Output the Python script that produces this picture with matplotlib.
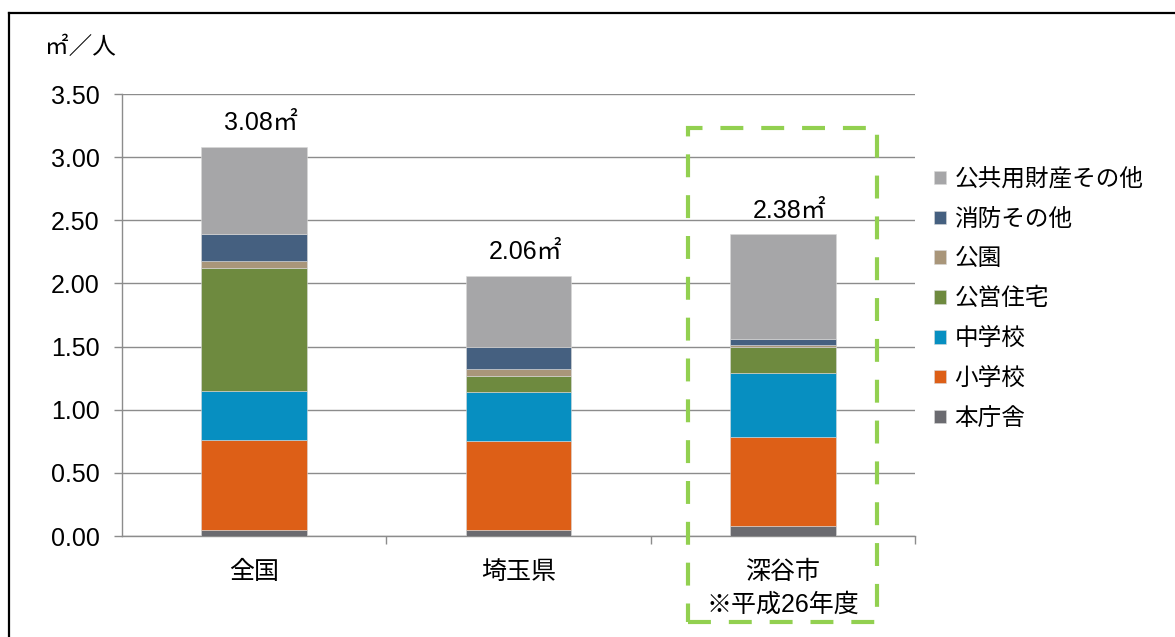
import matplotlib
matplotlib.use("Agg")
import matplotlib.pyplot as plt
from matplotlib.patches import Rectangle
from matplotlib.lines import Line2D

plt.rcParams['font.family'] = ['Liberation Sans', 'Noto Sans CJK JP', 'DejaVu Sans']

categories = ['全国', '埼玉県', '深谷市\n※平成26年度']
series_names = ['本庁舎', '小学校', '中学校', '公営住宅', '公園', '消防その他', '公共用財産その他']
honchosha = [0.05, 0.05, 0.08]
shogakko = [0.71, 0.70, 0.70]
chugakko = [0.39, 0.39, 0.51]
koei_jutaku = [0.97, 0.13, 0.21]
koen = [0.06, 0.05, 0.01]
shobo = [0.21, 0.18, 0.05]
kokyo_sonota = [0.69, 0.56, 0.83]
totals_label = ['3.08㎡', '2.06㎡', '2.38㎡']
yticks = [0.0, 0.5, 1.0, 1.5, 2.0, 2.5, 3.0, 3.5]

series = [honchosha, shogakko, chugakko, koei_jutaku, koen, shobo, kokyo_sonota]
colors = ['#6b6b70', '#dd5f17', '#078fc1', '#6e8a3f', '#a9967a', '#456080', '#a6a6a8']

W, H = 1175, 637
fig = plt.figure(figsize=(W / 100, H / 100), dpi=100)
ax = fig.add_axes([122 / W, 1 - 536 / H, (915 - 122) / W, (536 - 94) / H])

x = list(range(len(categories)))
bottom = [0.0] * len(categories)
for vals, col, name in zip(series, colors, series_names):
    ax.bar(x, vals, width=0.4, bottom=bottom, color=col, label=name,
           edgecolor='#d8d8d8', linewidth=0.4, zorder=3)
    bottom = [b + v for b, v in zip(bottom, vals)]

for xi, top, lab in zip(x, bottom, totals_label):
    ax.annotate(lab, (xi, top), xytext=(5, 17), textcoords='offset points',
                ha='center', va='center', fontsize=18, color='black')

ax.set_xlim(-0.5, 2.5)
ax.set_ylim(0, 3.5)
ax.set_yticks(yticks)
ax.set_yticklabels([f'{v:.2f}' for v in yticks], fontsize=18)
ax.yaxis.grid(True, color='#8c8c8c', linewidth=1.0, zorder=0)
ax.set_axisbelow(True)
ax.tick_params(axis='y', length=6, width=1.0, color='#8c8c8c', pad=10)

ax.set_xticks(x)
ax.set_xticklabels(categories, fontsize=18, linespacing=1.5)
ax.set_xticks([0.5, 1.5, 2.5], minor=True)
ax.tick_params(axis='x', which='major', length=0, pad=17)
ax.tick_params(axis='x', which='minor', length=6, width=1.0, color='#8c8c8c')

for s in ['top', 'right']:
    ax.spines[s].set_visible(False)
for s in ['left', 'bottom']:
    ax.spines[s].set_color('#8c8c8c')
    ax.spines[s].set_linewidth(1.0)

# Highlight box around 深谷市
rect = Rectangle((1.64, -0.68), 0.717, 3.91, fill=False, edgecolor='#92d050',
                 linewidth=3, linestyle=(0, (5.5, 4.3)), clip_on=False, zorder=5)
ax.add_patch(rect)

# Unit label
fig.text(45 / W, 1 - 48 / H, '㎡／人', fontsize=17, ha='left', va='center')

# Legend (reverse order)
handles, labels = ax.get_legend_handles_labels()
leg = fig.legend(handles[::-1], labels[::-1], loc='upper left',
                 bbox_to_anchor=(925 / W, 1 - 159 / H), frameon=False,
                 fontsize=17, handlelength=0.5, handleheight=0.5,
                 handletextpad=0.35, labelspacing=0.75, borderaxespad=0)

# Outer frame (top and left only)
fig.add_artist(Line2D([8.5 / W, 1.0], [1 - 12.5 / H, 1 - 12.5 / H],
                      transform=fig.transFigure, color='black', linewidth=1.6))
fig.add_artist(Line2D([8.5 / W, 8.5 / W], [0.0, 1 - 12.5 / H],
                      transform=fig.transFigure, color='black', linewidth=1.6))

fig.savefig('out.png', dpi=100)
